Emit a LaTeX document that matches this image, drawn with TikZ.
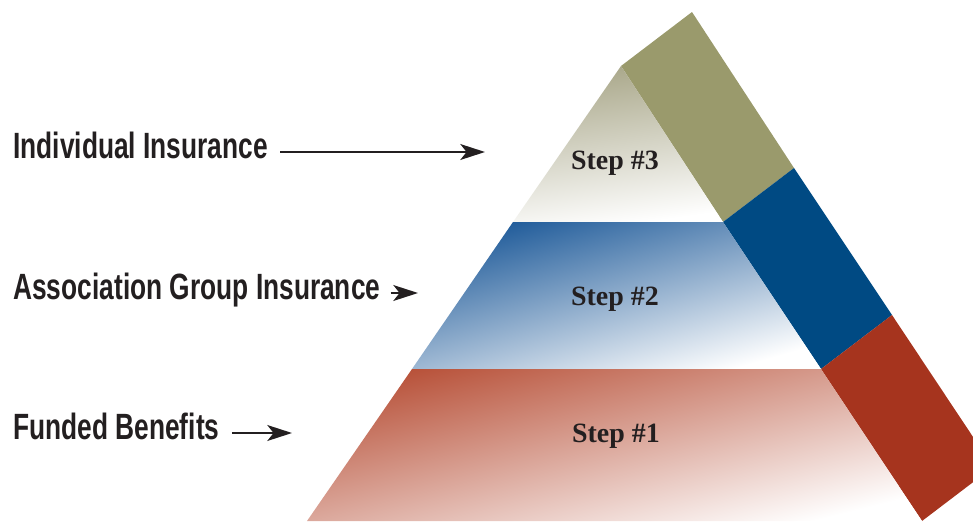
\documentclass[tikz,border=0pt]{standalone}
\usepackage{fontspec}
\usepackage{xcolor}
\usetikzlibrary{arrows.meta}

\newfontfamily\headfont[FakeStretch=0.72]{Liberation Sans}
\newfontfamily\stepfont{Liberation Serif}

\definecolor{oliveside}{HTML}{9A9A6C}
\definecolor{blueside}{HTML}{004A83}
\definecolor{redside}{HTML}{A6341E}
\definecolor{olivetop}{HTML}{A8A688}
\definecolor{bluetop}{HTML}{1E5A99}
\definecolor{bluemid}{HTML}{7F9CC8}
\definecolor{redtop}{HTML}{B8523A}
\definecolor{redmid}{HTML}{D6977F}
\definecolor{inktext}{HTML}{231F20}

\begin{document}
\begin{tikzpicture}[x=0.02cm, y=-0.02cm,
      tier/.style={inner sep=0pt, anchor=base west, text=inktext,
        font=\headfont\bfseries\fontsize{20.8pt}{24pt}\selectfont},
      steplabel/.style={inner sep=0pt, text=inktext,
        font=\stepfont\bfseries\fontsize{15.9pt}{18pt}\selectfont},
      pointer/.style={-{Stealth[length=14pt, width=9pt, inset=3.5pt]}, line width=1.4pt, draw=inktext}
    ]
    \useasboundingbox (0,0) rectangle (973,521);
    \clip (0,0) rectangle (973,521);

    % Front face corners
    \coordinate (apex) at (621,66);
    \coordinate (t-left) at (513,222);
    \coordinate (t-right) at (723,222);
    \coordinate (m-left) at (412,369);
    \coordinate (m-right) at (821,369);
    \coordinate (b-left) at (307,521);
    \coordinate (b-right) at (922,521);

    % Side band
    \fill[oliveside] (apex) -- (t-right) -- ++(71,-54) -- (692,12) -- cycle;
    \fill[blueside] (t-right) -- (m-right) -- ++(71,-54) -- ++(-98,-147) -- cycle;
    \fill[redside] (m-right) -- (b-right) -- ++(71,-54) -- ++(-101,-152) -- cycle;

    % Front steps
    \shade[top color=olivetop, bottom color=white, shading angle=8]
      (apex) -- (t-left) -- (t-right) -- cycle;
    \shade[top color=bluetop, middle color=bluemid, bottom color=white, shading angle=16]
      (t-left) -- (t-right) -- (m-right) -- (m-left) -- cycle;
    \shade[top color=redtop, middle color=redmid, bottom color=white, shading angle=14]
      (m-left) -- (m-right) -- (b-right) -- (b-left) -- cycle;

    % Step labels
    \node[steplabel] (step3) at (615,163) {Step \#3};
    \node[steplabel] (step2) at (615,299) {Step \#2};
    \node[steplabel] (step1) at (616,436) {Step \#1};

    % Tier labels
    \node[tier] (indiv) at (13,158) {Individual Insurance};
    \node[tier] (assoc) at (13,299) {Association Group Insurance};
    \node[tier] (funded) at (13,439) {Funded Benefits};

    \coordinate (indiv-tip) at (485,152);
    \coordinate (assoc-tip) at (418,293);
    \coordinate (funded-tip) at (292,433);

    % Arrows
    \draw[pointer] ([shift={(12,-6)}]indiv.base east) -- (indiv-tip);
    \draw[pointer] ([shift={(10,-6)}]assoc.base east) -- (assoc-tip);
    \draw[pointer] ([shift={(12,-6)}]funded.base east) -- (funded-tip);
  \end{tikzpicture}
\end{document}
